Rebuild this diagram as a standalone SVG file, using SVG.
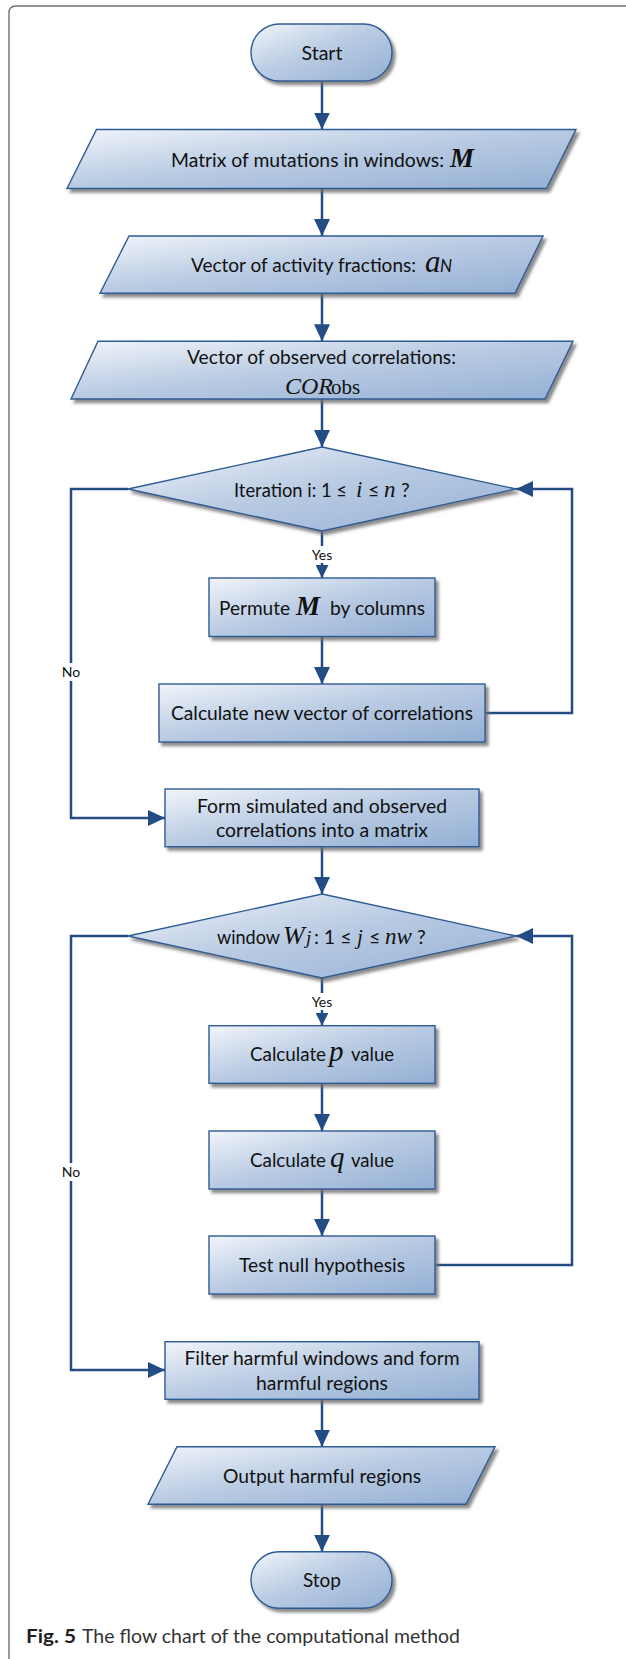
<svg xmlns="http://www.w3.org/2000/svg" width="626" height="1659" viewBox="0 0 626 1659">
<defs>
<linearGradient id="fill" x1="0" y1="0" x2="1" y2="1">
<stop offset="0" stop-color="#f2f5fa"/>
<stop offset="0.45" stop-color="#bccde4"/>
<stop offset="1" stop-color="#93afd4"/>
</linearGradient>
<filter id="sh" x="-10%" y="-10%" width="130%" height="140%">
<feDropShadow dx="3" dy="3.5" stdDeviation="1.4" flood-color="#6e6e6e" flood-opacity="0.8"/>
</filter>
<marker id="arr" viewBox="0 0 17 16" refX="17" refY="8" markerWidth="17" markerHeight="16" markerUnits="userSpaceOnUse" orient="auto">
<path d="M0,0 L17,8 L0,16 z" fill="#244c84"/>
</marker>
<marker id="arrs" viewBox="0 0 13 13" refX="13" refY="6.5" markerWidth="13" markerHeight="13" markerUnits="userSpaceOnUse" orient="auto">
<path d="M0,0 L13,6.5 L0,13 z" fill="#244c84"/>
</marker>
<style>
.shape{fill:url(#fill);stroke:#2f5b94;stroke-width:1.4;filter:url(#sh)}
.t{font-family:Lato,"Liberation Sans",sans-serif;font-size:19.5px;fill:#111}
.c{text-anchor:middle}
.m{font-family:"Liberation Serif",serif;font-style:italic;fill:#111}
.lbl{font-family:Lato,"Liberation Sans",sans-serif;font-size:14px;fill:#111;text-anchor:middle}
.conn{fill:none;stroke:#244c84;stroke-width:2.5}
</style>
</defs>
<rect width="626" height="1659" fill="#fff"/>
<path d="M9,1659 L9,13 Q9,6 16,6 L626,6" fill="none" stroke="#707070" stroke-width="1.4"/>

<g id="connectors">
<path class="conn" d="M322,81 L322,129.5" marker-end="url(#arr)"/>
<path class="conn" d="M322,188.5 L322,236" marker-end="url(#arr)"/>
<path class="conn" d="M322,293.3 L322,341.3" marker-end="url(#arr)"/>
<path class="conn" d="M322,399 L322,447" marker-end="url(#arr)"/>
<path class="conn" d="M322,531 L322,578" marker-end="url(#arrs)"/>
<path class="conn" d="M322,636.5 L322,684" marker-end="url(#arr)"/>
<path class="conn" d="M485,713 L572,713 L572,489 L516,489" marker-end="url(#arr)"/>
<path class="conn" d="M128,489 L71,489 L71,818 L165,818" marker-end="url(#arr)"/>
<path class="conn" d="M322,846.7 L322,894" marker-end="url(#arr)"/>
<path class="conn" d="M322,978 L322,1025.7" marker-end="url(#arrs)"/>
<path class="conn" d="M322,1083.3 L322,1131" marker-end="url(#arr)"/>
<path class="conn" d="M322,1189 L322,1236" marker-end="url(#arr)"/>
<path class="conn" d="M435,1265 L572,1265 L572,936 L516,936" marker-end="url(#arr)"/>
<path class="conn" d="M128,936 L71,936 L71,1370 L165,1370" marker-end="url(#arr)"/>
<path class="conn" d="M322,1399.3 L322,1446.7" marker-end="url(#arr)"/>
<path class="conn" d="M322,1504.3 L322,1551.7" marker-end="url(#arr)"/>
<rect x="308" y="546" width="28" height="17" fill="#fff"/>
<text class="lbl" x="322" y="559.5">Yes</text>
<rect x="308" y="993" width="28" height="17" fill="#fff"/>
<text class="lbl" x="322" y="1006.5">Yes</text>
<rect x="60" y="663" width="22" height="18" fill="#fff"/>
<text class="lbl" x="71" y="677">No</text>
<rect x="60" y="1163" width="22" height="18" fill="#fff"/>
<text class="lbl" x="71" y="1177">No</text>
</g>

<g id="start">
<rect class="shape" x="251" y="24" width="141" height="57" rx="28.5"/>
<text class="t c" x="322" y="59.5" textLength="41" lengthAdjust="spacingAndGlyphs">Start</text>
</g>

<g id="matrix">
<polygon class="shape" points="96.5,129.5 576,129.5 546.5,188.5 67,188.5"/>
<text class="t" x="171" y="166.5" textLength="273" lengthAdjust="spacingAndGlyphs">Matrix of mutations in windows:</text>
<text class="m" x="450" y="166.5" font-size="27" font-weight="bold">M</text>
</g>

<g id="activity">
<polygon class="shape" points="129,236 543,236 515,293.3 100,293.3"/>
<text class="t" x="191" y="272" textLength="225" lengthAdjust="spacingAndGlyphs">Vector of activity fractions:</text>
<text class="m" x="425" y="272" font-size="31">a</text>
<text x="440" y="272" font-family="Lato,'Liberation Sans',sans-serif" font-style="italic" font-size="17" fill="#111">N</text>
</g>

<g id="observed">
<polygon class="shape" points="98,341.3 573,341.3 545,399 71,399"/>
<text class="t" x="187" y="363.5" textLength="269" lengthAdjust="spacingAndGlyphs">Vector of observed correlations:</text>
<text class="m" x="285" y="394" font-size="24">COR</text>
<text x="331" y="394" font-family="'Liberation Serif',serif" font-size="21" fill="#111">obs</text>
</g>

<g id="iteration">
<polygon class="shape" points="322,447 516,489 322,531 128,489"/>
<text class="t" x="234" y="496.5" textLength="113" lengthAdjust="spacingAndGlyphs">Iteration i: 1 ≤</text>
<text class="m" x="356" y="496.5" font-size="23">i</text>
<text class="t" x="368" y="496.5">≤</text>
<text class="m" x="384" y="496.5" font-size="23">n</text>
<text class="t" x="401" y="496.5">?</text>
</g>

<g id="permute">
<rect class="shape" x="209" y="578" width="226" height="58.5"/>
<text class="t" x="219" y="614.5" textLength="71" lengthAdjust="spacingAndGlyphs">Permute</text>
<text class="m" x="296" y="614.5" font-size="27" font-weight="bold">M</text>
<text class="t" x="330" y="614.5" textLength="95" lengthAdjust="spacingAndGlyphs">by columns</text>
</g>

<g id="newvector">
<rect class="shape" x="159" y="684" width="326" height="58"/>
<text class="t c" x="322" y="719.5" textLength="302" lengthAdjust="spacingAndGlyphs">Calculate new vector of correlations</text>
</g>

<g id="form">
<rect class="shape" x="165" y="789" width="314" height="57.7"/>
<text class="t c" x="322" y="812.5" textLength="250" lengthAdjust="spacingAndGlyphs">Form simulated and observed</text>
<text class="t c" x="322" y="837" textLength="212" lengthAdjust="spacingAndGlyphs">correlations into a matrix</text>
</g>

<g id="window">
<polygon class="shape" points="322,894 516,936 322,978 128,936"/>
<text class="t" x="217" y="944" textLength="63" lengthAdjust="spacingAndGlyphs">window</text>
<text class="m" x="283" y="944" font-size="26">W</text>
<text class="m" x="306" y="944" font-size="19">j</text>
<text class="t" x="314" y="944">: 1 ≤</text>
<text class="m" x="357" y="944" font-size="21">j</text>
<text class="t" x="369" y="944">≤</text>
<text class="m" x="385" y="944" font-size="23">nw</text>
<text class="t" x="417" y="944">?</text>
</g>

<g id="pvalue">
<rect class="shape" x="209" y="1025.7" width="226" height="57.6"/>
<text class="t" x="250" y="1061" textLength="76" lengthAdjust="spacingAndGlyphs">Calculate</text>
<text class="m" x="329" y="1061" font-size="29">p</text>
<text class="t" x="351" y="1061" textLength="43" lengthAdjust="spacingAndGlyphs">value</text>
</g>

<g id="qvalue">
<rect class="shape" x="209" y="1131" width="226" height="58"/>
<text class="t" x="250" y="1166.5" textLength="76" lengthAdjust="spacingAndGlyphs">Calculate</text>
<text class="m" x="330" y="1166.5" font-size="29">q</text>
<text class="t" x="351" y="1166.5" textLength="43" lengthAdjust="spacingAndGlyphs">value</text>
</g>

<g id="test">
<rect class="shape" x="209" y="1236" width="226" height="58"/>
<text class="t c" x="322" y="1272" textLength="166" lengthAdjust="spacingAndGlyphs">Test null hypothesis</text>
</g>

<g id="filter">
<rect class="shape" x="165" y="1341.7" width="314" height="57.6"/>
<text class="t c" x="322" y="1364.5" textLength="275" lengthAdjust="spacingAndGlyphs">Filter harmful windows and form</text>
<text class="t c" x="322" y="1390" textLength="132" lengthAdjust="spacingAndGlyphs">harmful regions</text>
</g>

<g id="output">
<polygon class="shape" points="177,1446.7 495,1446.7 466,1504.3 148,1504.3"/>
<text class="t c" x="322" y="1482.5" textLength="198" lengthAdjust="spacingAndGlyphs">Output harmful regions</text>
</g>

<g id="stop">
<rect class="shape" x="251" y="1551.7" width="141" height="56.6" rx="28.3"/>
<text class="t c" x="322" y="1587" textLength="38" lengthAdjust="spacingAndGlyphs">Stop</text>
</g>

<g id="caption">
<text x="26" y="1643" font-family="Lato,'Liberation Sans',sans-serif" font-size="19" font-weight="bold" fill="#231f20" textLength="50" lengthAdjust="spacingAndGlyphs">Fig. 5</text>
<text x="82" y="1643" font-family="Lato,'Liberation Sans',sans-serif" font-size="19" fill="#333" textLength="378" lengthAdjust="spacingAndGlyphs">The flow chart of the computational method</text>
</g>
</svg>
